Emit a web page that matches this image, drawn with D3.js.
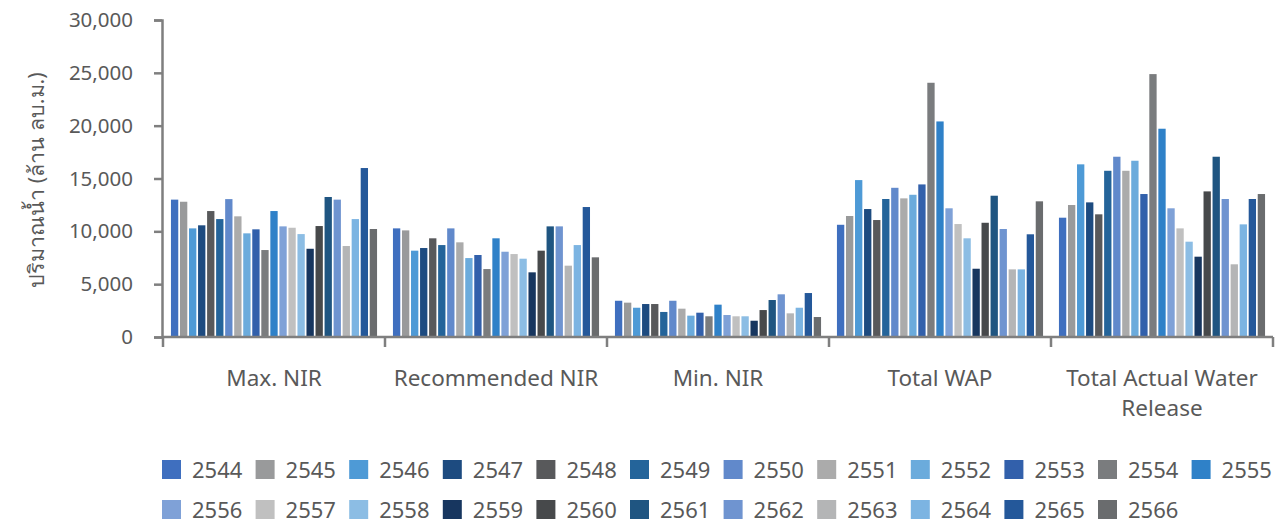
<!DOCTYPE html>
<html>
<head>
<meta charset="utf-8">
<script src="https://cdn.jsdelivr.net/npm/d3@7"></script>
<style>
  body { margin: 0; background: #fff; }
  text { font-family: "Noto Sans", "Open Sans", sans-serif; fill: #595959; }
</style>
</head>
<body>
<svg id="chart" width="1287" height="527"></svg>
<script>
////////////////////////////////////////////
// DATA
////////////////////////////////////////////

const categories = ["Max. NIR", "Recommended NIR", "Min. NIR", "Total WAP", "Total Actual Water Release"];
const years = ["2544","2545","2546","2547","2548","2549","2550","2551","2552","2553","2554","2555",
  "2556","2557","2558","2559","2560","2561","2562","2563","2564","2565","2566"];
const colors = ["#3f6fbf","#999a9b","#4e9ad6","#1d4b80","#58595b","#24649a","#6189cb","#ababab",
  "#6babdc","#3260ab","#7a7c7e","#2f81c8","#7fa1d7","#c0c0c0","#8cbde4","#17365f",
  "#47494b","#1f5581","#6f94d0","#b4b5b6","#7cb4e2","#24589a","#6a6c6e"];

// one array per category, one value per year (ล้าน ลบ.ม.)
const maxNIR = [13000,12800,10280,10570,11920,11160,13050,11420,9810,10190,8230,11920,
  10470,10340,9740,8350,10500,13250,13000,8610,11160,15990,10220];
const recNIR = [10280,10090,8170,8420,9340,8700,10280,8960,7470,7760,6430,9340,
  8070,7850,7410,6120,8170,10470,10470,6750,8700,12300,7540];
const minNIR = [3430,3250,2770,3120,3120,2370,3430,2680,2020,2300,1960,3060,
  2080,1960,1960,1540,2550,3500,4040,2240,2770,4160,1890];
const totalWAP = [10620,11450,14850,12110,11070,13060,14120,13120,13460,14440,24060,20400,
  12180,10690,9340,6460,10810,13370,10220,6400,6400,9720,12840];
const actualRelease = [11290,12490,16340,12740,11610,15730,17060,15730,16680,13530,24880,19710,
  12180,10280,9020,7600,13780,17060,13060,6880,10660,13060,13530];

const series = [maxNIR, recNIR, minNIR, totalWAP, actualRelease];
const yTicks = [0,5000,10000,15000,20000,25000,30000];
const yTitle = "ปริมาณน้ำ (ล้าน ลบ.ม.)";

////////////////////////////////////////////
// SCALES
////////////////////////////////////////////

let svg = d3.select("#chart");
const axisCol = "#7f7f7f";

let x0 = d3.scaleBand().domain(categories).range([163, 1273]).padding(0);
let x1 = d3.scaleBand().domain(years).range([0, x0.bandwidth()])
  .paddingInner(0.19).paddingOuter(0.88);
let y = d3.scaleLinear().domain([0, 30000]).range([337, 20]);

////////////////////////////////////////////
// BARS
////////////////////////////////////////////

let groups = svg.append("g").selectAll("g")
  .data(categories)
  .join("g")
  .attr("transform", d => `translate(${x0(d)},0)`);

groups.selectAll("rect")
  .data((d, i) => series[i].map((v, j) => ({year: years[j], v: v, c: colors[j]})))
  .join("rect")
  .attr("x", d => x1(d.year))
  .attr("width", x1.bandwidth())
  .attr("y", d => y(d.v))
  .attr("height", d => y(0) - y(d.v))
  .attr("fill", d => d.c);

////////////////////////////////////////////
// AXES
////////////////////////////////////////////

let yAxis = svg.append("g")
  .attr("transform", "translate(162,0)")
  .call(d3.axisLeft(y).tickValues(yTicks).tickSize(8).tickPadding(21)
    .tickFormat(d3.format(",")));
yAxis.selectAll("path, line").attr("stroke", axisCol).attr("stroke-width", 2.5);
yAxis.selectAll("text").attr("font-size", 20.5).attr("fill", "#5f5f5f")
  .style("font-family", "'Noto Sans', sans-serif");

// category axis, ticks at the boundaries
let xg = svg.append("g").attr("transform", `translate(0,${y(0)})`);
xg.append("line")
  .attr("x1", 162).attr("x2", x0.range()[1])
  .attr("stroke", axisCol).attr("stroke-width", 2.5);
xg.selectAll("line.tick")
  .data(categories.map(c => x0(c)).concat([x0.range()[1]]))
  .join("line")
  .attr("class", "tick")
  .attr("x1", d => d).attr("x2", d => d)
  .attr("y1", 0).attr("y2", 10)
  .attr("stroke", axisCol).attr("stroke-width", 2.5);

// labels, long ones wrapped on two lines
const wrapLabel = s => s === "Total Actual Water Release" ? ["Total Actual Water", "Release"] : [s];
xg.selectAll("text.cat")
  .data(categories)
  .join("text")
  .attr("class", "cat")
  .attr("text-anchor", "middle")
  .attr("font-size", 22.5)
  .attr("transform", d => `translate(${x0(d) + x0.bandwidth() / 2},49)`)
  .selectAll("tspan")
  .data(d => wrapLabel(d))
  .join("tspan")
  .attr("x", 0)
  .attr("dy", (d, i) => i === 0 ? 0 : 30)
  .text(d => d);

svg.append("text")
  .attr("transform", "translate(44,180) rotate(-90)")
  .attr("text-anchor", "middle")
  .attr("font-size", 21.5)
  .text(yTitle);

////////////////////////////////////////////
// LEGEND
////////////////////////////////////////////

const perRow = 12;
let legend = svg.append("g").selectAll("g")
  .data(years)
  .join("g")
  .attr("transform", (d, i) => `translate(${162 + (i % perRow) * 93.6},${460 + Math.floor(i / perRow) * 40})`);

legend.append("rect")
  .attr("width", 19).attr("height", 19)
  .attr("fill", (d, i) => colors[i]);

legend.append("text")
  .attr("x", 30).attr("y", 18)
  .attr("font-size", 22)
  .text(d => d);
</script>
</body>
</html>
